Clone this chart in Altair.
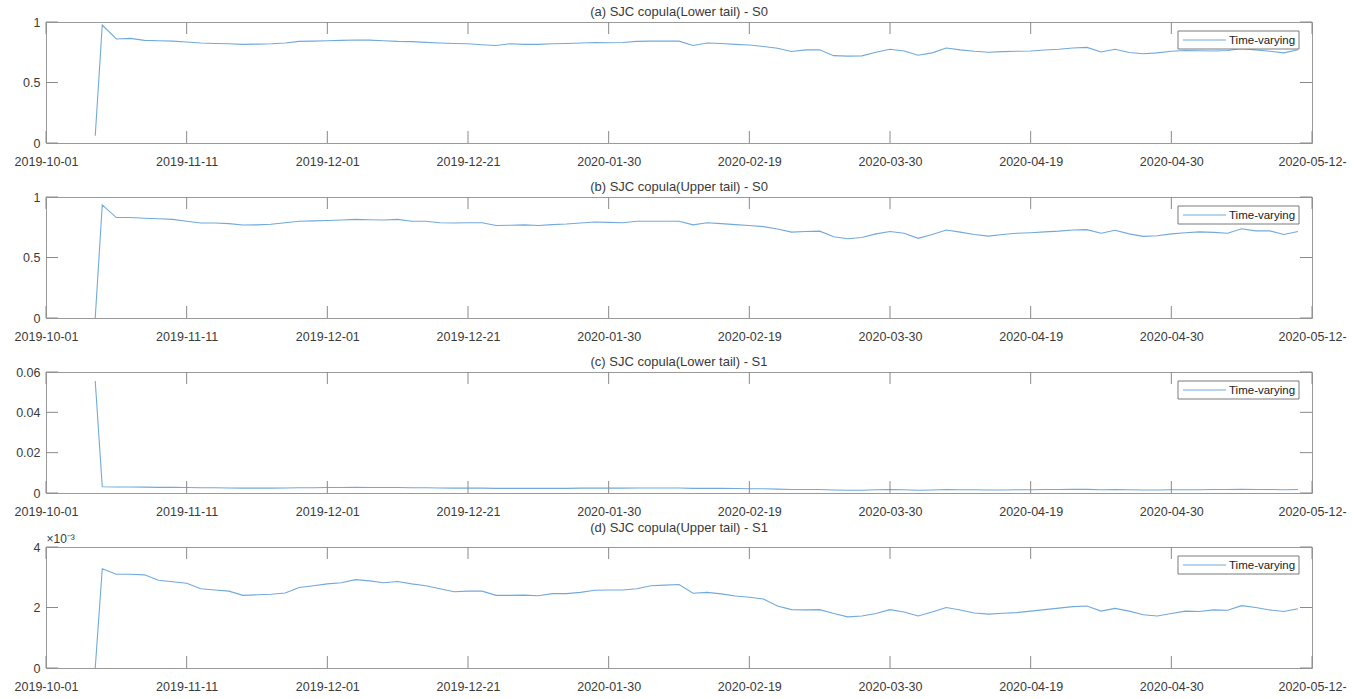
import altair as alt
import pandas as pd

# sample index of each observation (tick every 20 samples)
t_index = [7, 8] + list(range(10, 179, 2))

tick_pos = [0, 20, 40, 60, 80, 100, 120, 140, 160, 180]
tick_labels = ["2019-10-01", "2019-11-11", "2019-12-01", "2019-12-21", "2020-01-30",
               "2020-02-19", "2020-03-30", "2020-04-19", "2020-04-30", "2020-05-12-"]

lower_s0 = [0.06, 0.975,
            0.86, 0.865, 0.848, 0.845, 0.842, 0.835, 0.826, 0.822, 0.82, 0.815,
            0.817, 0.82, 0.826, 0.84, 0.842, 0.845, 0.848, 0.851, 0.85, 0.845,
            0.84, 0.838, 0.832, 0.826, 0.822, 0.82, 0.812, 0.806, 0.82, 0.815,
            0.815, 0.82, 0.822, 0.826, 0.83, 0.828, 0.83, 0.84, 0.842, 0.842,
            0.842, 0.806, 0.826, 0.822, 0.815, 0.81, 0.798, 0.783, 0.756, 0.77,
            0.77, 0.722, 0.718, 0.72, 0.75, 0.775, 0.76, 0.725, 0.745, 0.785,
            0.77, 0.758, 0.75, 0.755, 0.758, 0.76, 0.768, 0.775, 0.785, 0.79,
            0.752, 0.775, 0.748, 0.738, 0.745, 0.758, 0.764, 0.762, 0.76, 0.765,
            0.78, 0.77, 0.758, 0.745, 0.77]

upper_s0 = [0.0, 0.935,
            0.83, 0.83, 0.825, 0.82, 0.815, 0.80, 0.785, 0.785, 0.78, 0.768,
            0.77, 0.775, 0.787, 0.80, 0.803, 0.806, 0.81, 0.815, 0.812, 0.81,
            0.815, 0.80, 0.80, 0.787, 0.785, 0.787, 0.787, 0.765, 0.767, 0.77,
            0.765, 0.772, 0.777, 0.785, 0.793, 0.79, 0.787, 0.80, 0.80, 0.80,
            0.80, 0.77, 0.787, 0.78, 0.772, 0.765, 0.755, 0.735, 0.71, 0.715,
            0.718, 0.672, 0.655, 0.665, 0.695, 0.715, 0.70, 0.658, 0.69, 0.727,
            0.71, 0.69, 0.677, 0.69, 0.70, 0.705, 0.712, 0.718, 0.727, 0.73,
            0.70, 0.725, 0.695, 0.675, 0.68, 0.695, 0.705, 0.712, 0.708, 0.70,
            0.737, 0.72, 0.72, 0.69, 0.715]

lower_s1 = [0.0555, 0.0031,
            0.0030, 0.0030, 0.0029, 0.0028, 0.0028, 0.0027, 0.0026, 0.0026, 0.0025, 0.0024,
            0.0024, 0.0024, 0.0025, 0.0026, 0.0026, 0.0027, 0.0027, 0.0028, 0.0027, 0.0027,
            0.0027, 0.0026, 0.0026, 0.0025, 0.0024, 0.0024, 0.0024, 0.0023, 0.0023, 0.0023,
            0.0023, 0.0023, 0.0023, 0.0024, 0.0024, 0.0024, 0.0024, 0.0025, 0.0025, 0.0025,
            0.0025, 0.0023, 0.0023, 0.0023, 0.0022, 0.0021, 0.0021, 0.0019, 0.0017, 0.0017,
            0.0017, 0.0015, 0.0014, 0.0014, 0.0016, 0.0017, 0.0016, 0.0014, 0.0015, 0.0017,
            0.0016, 0.0016, 0.0015, 0.0015, 0.0016, 0.0016, 0.0017, 0.0017, 0.0018, 0.0018,
            0.0016, 0.0017, 0.0016, 0.0015, 0.0015, 0.0016, 0.0016, 0.0016, 0.0017, 0.0017,
            0.0018, 0.0017, 0.0017, 0.0016, 0.0017]

# in units of 1e-3
upper_s1 = [0.0, 3.28,
            3.10, 3.10, 3.08, 2.90, 2.85, 2.80, 2.62, 2.58, 2.54, 2.40,
            2.42, 2.44, 2.48, 2.66, 2.72, 2.78, 2.82, 2.92, 2.88, 2.82,
            2.86, 2.78, 2.72, 2.62, 2.52, 2.54, 2.54, 2.40, 2.40, 2.41,
            2.39, 2.46, 2.46, 2.50, 2.57, 2.58, 2.58, 2.62, 2.72, 2.74,
            2.76, 2.47, 2.50, 2.45, 2.38, 2.34, 2.28, 2.05, 1.93, 1.92,
            1.93, 1.80, 1.69, 1.72, 1.80, 1.93, 1.85, 1.72, 1.85, 2.00,
            1.92, 1.82, 1.78, 1.81, 1.83, 1.88, 1.93, 1.98, 2.03, 2.05,
            1.88, 1.97, 1.88, 1.76, 1.72, 1.80, 1.88, 1.87, 1.92, 1.91,
            2.06, 2.00, 1.92, 1.87, 1.96]

W, H = 1266, 121
FONT = "Liberation Sans"
LINE = "#72a9dc"
BOX = "#9a9a9a"
TICK = "#8a8a8a"
TEXT = "#3a3a3a"
TL = 12  # inward tick length

label_expr = "[" + ",".join(f"'{s}'" for s in tick_labels) + "][round(datum.value / 20)]"


def panel(title, values, y_max, y_ticks, y_title=""):
    df = pd.DataFrame({"t": t_index, "v": values})
    xdf = pd.DataFrame({"t": tick_pos})
    ydf = pd.DataFrame({"v": y_ticks})

    x_enc = alt.X("t:Q", title=None,
                  scale=alt.Scale(domain=[0, 180], nice=False, zero=False),
                  axis=alt.Axis(values=tick_pos, labelExpr=label_expr, ticks=False,
                                domain=False, grid=False, labelPadding=12,
                                labelFlush=False, labelFontSize=12.5, labelFont=FONT,
                                labelColor=TEXT, labelOverlap=False))
    y_axis = dict(values=y_ticks, format="~g", ticks=False, domain=False, grid=False,
                  labelPadding=6, labelFontSize=12.5, labelFont=FONT, labelColor=TEXT)
    if y_title:
        y_axis.update(title=y_title, titleAngle=0, titleAlign="left", titleX=0,
                      titleY=-2, titleBaseline="bottom", titleFont=FONT,
                      titleFontSize=12, titleFontWeight="normal", titleColor=TEXT)
    else:
        y_axis.update(title=None)
    y_enc = alt.Y("v:Q", scale=alt.Scale(domain=[0, y_max], nice=False),
                  axis=alt.Axis(**y_axis))

    line = alt.Chart(df).mark_line(color=LINE, strokeWidth=1.1).encode(x=x_enc, y=y_enc)

    xt_bottom = alt.Chart(xdf).mark_rule(color=TICK, strokeWidth=1).encode(
        x=x_enc, y=alt.value(H), y2=alt.value(H - TL))
    xt_top = alt.Chart(xdf).mark_rule(color=TICK, strokeWidth=1).encode(
        x=x_enc, y=alt.value(0), y2=alt.value(TL))
    yt_left = alt.Chart(ydf).mark_rule(color=TICK, strokeWidth=1).encode(
        y=y_enc, x=alt.value(0), x2=alt.value(TL))
    yt_right = alt.Chart(ydf).mark_rule(color=TICK, strokeWidth=1).encode(
        y=y_enc, x=alt.value(W - TL), x2=alt.value(W))

    # legend box in the upper-right corner
    lg_box = alt.Chart(xdf).transform_filter("datum.t == 0").mark_rect(
        fill="white", stroke="#7a7a7a", strokeWidth=1).encode(
        x=alt.value(W - 134), x2=alt.value(W - 13), y=alt.value(9), y2=alt.value(27))
    lg_line = alt.Chart(xdf).transform_filter("datum.t == 0").mark_rule(
        color=LINE, strokeWidth=1.1).encode(
        x=alt.value(W - 129), x2=alt.value(W - 86), y=alt.value(18))
    lg_text = alt.Chart(xdf).transform_filter("datum.t == 0").mark_text(
        text="Time-varying", align="left", baseline="middle", font=FONT,
        fontSize=11.5, color="#222222").encode(x=alt.value(W - 83), y=alt.value(18.5))

    return alt.layer(line, xt_bottom, xt_top, yt_left, yt_right,
                     lg_box, lg_line, lg_text).properties(
        width=W, height=H,
        title=alt.TitleParams(title, fontSize=13, font=FONT, fontWeight="normal",
                              color=TEXT, anchor="middle", offset=-3))


chart = alt.vconcat(
    panel("(a) SJC copula(Lower tail) - S0", lower_s0, 1, [0, 0.5, 1]),
    panel("(b) SJC copula(Upper tail) - S0", upper_s0, 1, [0, 0.5, 1]),
    panel("(c) SJC copula(Lower tail) - S1", lower_s1, 0.06, [0, 0.02, 0.04, 0.06]),
    panel("(d) SJC copula(Upper tail) - S1", upper_s1, 4, [0, 2, 4], y_title="×10⁻³"),
    spacing=54,
    bounds="flush",
).properties(
    padding={"left": 13, "top": 5, "right": 0, "bottom": 0},
    background="white",
).configure_view(
    stroke=BOX, strokeWidth=1
)

chart.save("out.html", embed_options={"renderer": "svg", "actions": False})
